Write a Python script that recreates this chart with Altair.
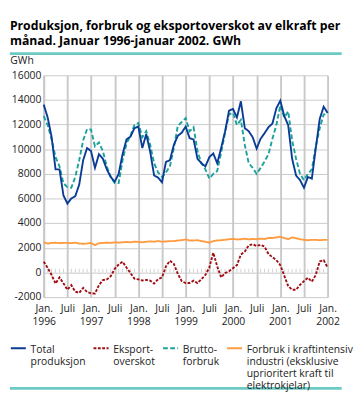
import json
import altair as alt
import pandas as pd

# ---- data (monthly, Jan 1996 .. Jan 2002) ----
months = [f"{y}-{m:02d}" for y in range(1996, 2002) for m in range(1, 13)] + ["2002-01"]

total = [13620, 12580, 11000, 8370, 8370, 6260, 5590, 6010, 6190, 7130, 9110, 10100,
         9850, 8490, 9600, 9230, 8370, 7750, 7370, 8000, 9600, 10800, 11020, 11710,
         11840, 10100, 11220, 9800, 7870, 7700, 7320, 8980, 9110, 10350, 11090, 11340,
         11840, 10900, 10800, 9230, 8860, 8610, 9360, 9660, 8860, 10100, 11460, 13130,
         13270, 12580, 13890, 11710, 11460, 10970, 10050, 10850, 11300, 11790, 12080, 13320,
         13940, 12700, 11960, 9230, 7870, 7500, 6880, 7750, 7620, 10100, 12460, 13450,
         12950]
brutto = [12700, 11960, 10800, 9360, 8610, 7250, 6930, 6880, 7750, 9110, 10720, 11640,
          11590, 10230, 10550, 9850, 8610, 7750, 7250, 7250, 9110, 10470, 11090, 11960,
          12130, 10970, 11460, 10350, 8860, 8120, 7750, 8120, 8610, 10100, 11890, 12210,
          12530, 11460, 11790, 9850, 8860, 8370, 7620, 8000, 8240, 9730, 11340, 12830,
          12950, 11960, 12380, 10350, 8860, 8490, 8000, 8490, 9000, 9600, 10850, 11960,
          13570, 12580, 13080, 10720, 9230, 8000, 7500, 8000, 8370, 10230, 11710, 12830,
          12830]
eksport = [875, 375, -200, -900, -400, -875, -1400, -1030, -1550, -1650, -1250, -1575,
           -1700, -1700, -1030, -620, -560, -300, 300, 650, 875, 400, -50, -500,
           -560, -650, -600, -660, -900, -540, -400, 500, 950, 700, -100, -700,
           -860, -850, -660, -860, -540, -200, 400, 1600, 500, -400, -50, 100,
           350, 600, 1450, 1700, 2200, 2300, 2150, 2250, 2100, 1500, 1250, 1000,
           600, -250, -1100, -1400, -1400, -1000, -700, -420, -740, -200, 900, 1000,
           400]
forbruk = [2450, 2350, 2400, 2420, 2380, 2400, 2400, 2380, 2420, 2350, 2330, 2350,
           2400, 2220, 2380, 2400, 2420, 2400, 2450, 2420, 2450, 2480, 2450, 2500,
           2480, 2450, 2500, 2520, 2500, 2550, 2500, 2520, 2550, 2550, 2600, 2620,
           2680, 2600, 2600, 2620, 2550, 2500, 2420, 2550, 2600, 2620, 2650, 2700,
           2720, 2680, 2700, 2750, 2680, 2720, 2700, 2750, 2720, 2800, 2800, 2850,
           2900, 2800, 2700, 2850, 2780, 2700, 2650, 2620, 2650, 2650, 2620, 2650,
           2650]

series_names = ["Total produksjon", "Eksportoverskot", "Bruttoforbruk",
                "Forbruk i kraftintensiv industri (eksklusive uprioritert kraft til elektrokjelar)"]
legend_lines = [["Total", "produksjon", "", ""], ["Eksport-", "overskot", "", ""],
                ["Brutto-", "forbruk", "", ""],
                ["Forbruk i kraftintensiv", "industri (eksklusive", "uprioritert kraft til", "elektrokjelar)"]]

x_tick_values = list(range(0, 73, 6))
x_tick_labels = [["Jan.", "1996"], ["Juli"], ["Jan.", "1997"], ["Juli"], ["Jan.", "1998"], ["Juli"],
                 ["Jan.", "1999"], ["Juli"], ["Jan.", "2000"], ["Juli"], ["Jan.", "2001"], ["Juli"],
                 ["Jan.", "2002"]]
y_tick_values = list(range(-2000, 16001, 2000))

title_lines = ["Produksjon, forbruk og eksportoverskot av elkraft per",
               "månad. Januar 1996-januar 2002. GWh"]

# ---- long table (orange first so blue is drawn on top) ----
rows = []
for name, vals in [(series_names[3], forbruk), (series_names[1], eksport),
                   (series_names[2], brutto), (series_names[0], total)]:
    for i, v in enumerate(vals):
        rows.append({"t": i, "month": months[i], "value": v, "series": name})
df = pd.DataFrame(rows)

# month positions for the small ticks on the zero line
minor_df = pd.DataFrame({"t": [i for i in range(73) if i % 6], "value": 0})

colors = ["#0a3c96", "#a00d12", "#1aa19c", "#ff9c40"]
dashes = [[1, 0], [3, 1.6], [5, 2.6], [1, 0]]

W, H = 302, 236
FONT = "Open Sans"
GRID = "#c8c8c8"

x_label_expr = json.dumps(x_tick_labels) + "[round(datum.value / 6)]"
legend_label_expr = (json.dumps(legend_lines) + "[indexof(" + json.dumps(series_names) + ", datum.label)]")

legend = alt.Legend(
    title=None, orient="none", legendX=-36, legendY=H + 41, direction="horizontal",
    columns=4, labelExpr=legend_label_expr, symbolType="M-1,0.55H1", symbolSize=256,
    symbolStrokeWidth=2, labelBaseline="top", labelFontSize=11, labelFont=FONT,
    labelColor="#222", labelOffset=4, columnPadding=4, rowPadding=0, padding=0,
    labelLimit=200,
)

x_axis = alt.Axis(values=x_tick_values, labelExpr=x_label_expr, title=None,
                  grid=True, gridColor=GRID, gridWidth=2, domain=False, ticks=False,
                  labelPadding=6, labelFontSize=11, labelFont=FONT,
                  labelLineHeight=14, labelColor="#222", labelFlush=False,
                  labelOverlap=False, labelBound=False)
y_axis = alt.Axis(values=y_tick_values, labelExpr="toString(datum.value)",
                  title="GWh", titleAngle=0, titleX=-36, titleY=-13,
                  titleAlign="left", titleBaseline="alphabetic",
                  titleFontWeight="normal", titleFontSize=11, titleFont=FONT,
                  titleColor="#222", gridColor=GRID, gridWidth=1,
                  domainColor=GRID, domainWidth=2, ticks=False, labelPadding=3,
                  labelFontSize=11, labelFont=FONT, labelColor="#222",
                  labelOverlap=False, labelBound=False)

x_scale = alt.Scale(domain=[0, 72], nice=False, zero=False)
y_scale = alt.Scale(domain=[-2000, 16000], nice=False)

minor = alt.Chart(minor_df).mark_tick(
    orient="vertical", size=4, thickness=1, color="#bdbdbd", yOffset=-2
).encode(x=alt.X("t:Q", scale=x_scale, axis=x_axis),
         y=alt.Y("value:Q", scale=y_scale, axis=y_axis))

lines = alt.Chart(df).mark_line(strokeWidth=2).encode(
    x=alt.X("t:Q", scale=x_scale, axis=x_axis),
    y=alt.Y("value:Q", scale=y_scale, axis=y_axis),
    color=alt.Color("series:N", scale=alt.Scale(domain=series_names, range=colors), legend=legend),
    strokeDash=alt.StrokeDash("series:N", scale=alt.Scale(domain=series_names, range=dashes), legend=legend),
    detail="series:N",
)

deco = pd.DataFrame({"k": [0]})
top_rule = alt.Chart(deco).mark_rule(color="#6ccac5", strokeWidth=3).encode(
    x=alt.value(-36), x2=alt.value(W + 15), y=alt.value(-23))
bot_rule = alt.Chart(deco).mark_rule(color="#6ccac5", strokeWidth=3).encode(
    x=alt.value(-36), x2=alt.value(W + 15), y=alt.value(H + 97))

chart = alt.layer(minor, lines, top_rule, bot_rule).properties(
    width=W, height=H, padding=0,
    title=alt.TitleParams(text=title_lines, anchor="start", frame="group", dx=-36,
                          fontSize=13, font=FONT, fontWeight="bold", color="#000",
                          lineHeight=16, offset=5),
).configure_view(stroke=None).configure_axis(labelOverlap=False)

chart.save("out.html", embed_options={"renderer": "svg", "actions": False})
